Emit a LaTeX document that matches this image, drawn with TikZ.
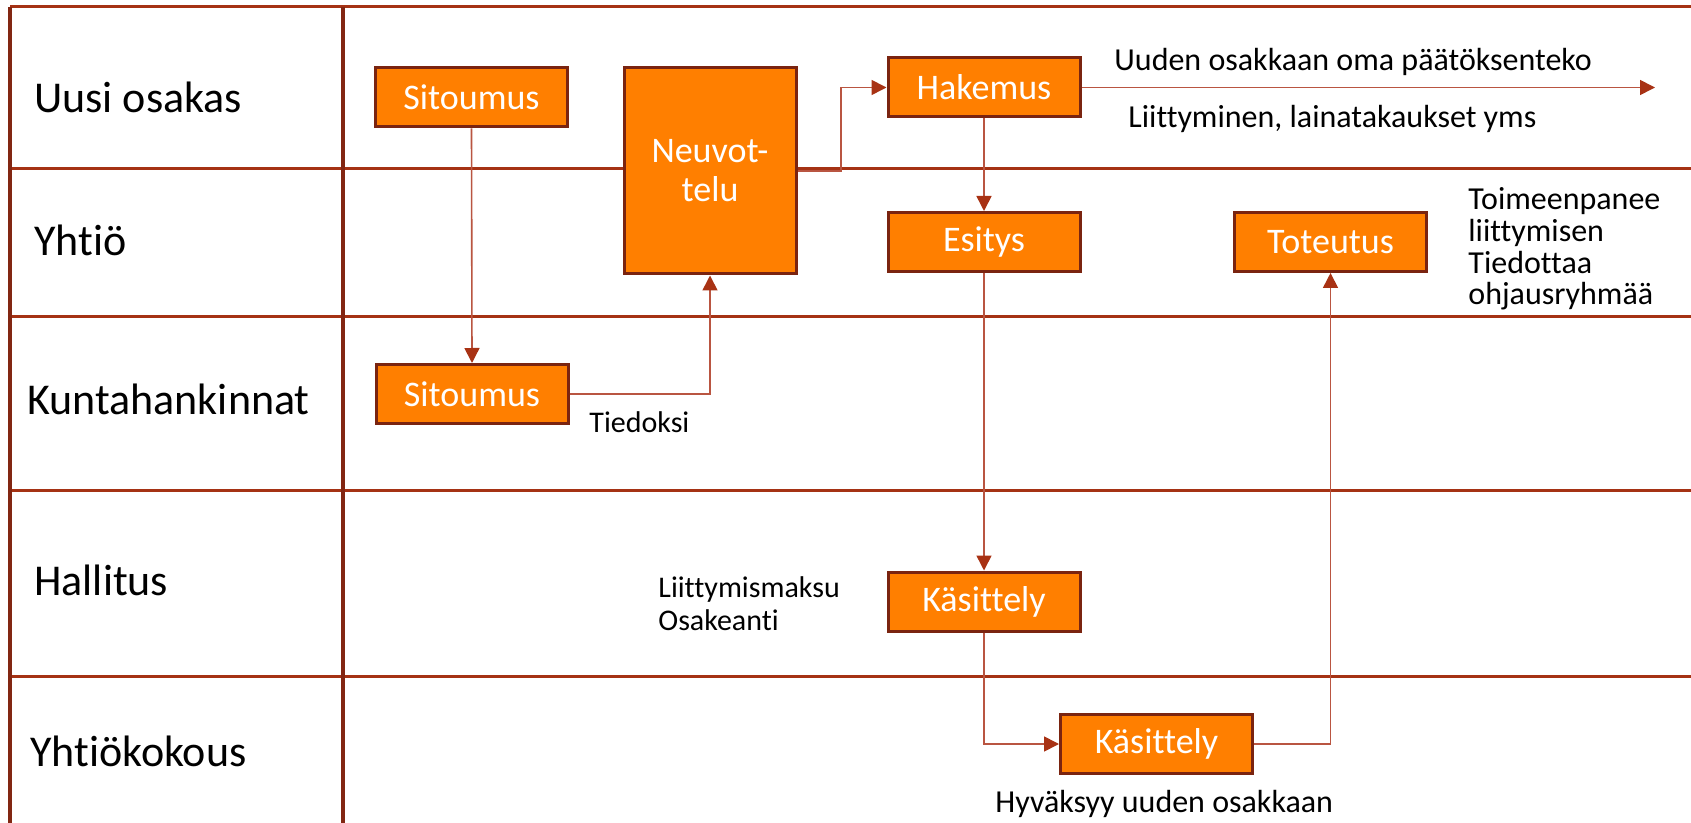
\documentclass[tikz,border=0pt]{standalone}
\usepackage{fontspec}
\setmainfont{Carlito}[Ligatures=NoCommon]
\usetikzlibrary{arrows.meta}
\definecolor{boxfill}{RGB}{255,127,0}
\definecolor{boxline}{RGB}{122,36,16}
\definecolor{gridline}{RGB}{165,50,20}
\definecolor{divline}{RGB}{130,38,18}
\definecolor{conn}{RGB}{185,85,65}
\definecolor{tipc}{RGB}{168,50,20}
\begin{document}
\begin{tikzpicture}[x=0.5pt,y=-0.5pt,
  stepbox/.style={draw=boxline, line width=1.5pt, fill=boxfill, text=white,
    minimum width=96pt, minimum height=29.5pt, inner sep=0pt,
    font=\fontsize{18}{19.5}\selectfont, align=center},
  lane/.style={anchor=base west, inner sep=0pt, font=\fontsize{22}{24}\selectfont},
  note/.style={anchor=base west, inner sep=0pt, font=\fontsize{16}{16}\selectfont},
  smallnote/.style={anchor=base west, inner sep=0pt, font=\fontsize{15}{15}\selectfont},
  flow/.style={draw=conn, line width=0.8pt, -{Triangle[length=7.5pt,width=7.5pt,color=tipc]}},
  gridl/.style={draw=gridline, line width=1.5pt},
  divl/.style={draw=divline, line width=1.6pt}
]
\useasboundingbox (0,0) rectangle (1691,823);

% lane grid
\draw[gridl] (10,7) -- (1691,7);
\foreach \yy in {169,317,490,676} { \draw[gridl] (10,\yy) -- (1691,\yy); }
\draw[divl] (10,7) -- (10,823);
\draw[divl] (343,7) -- (343,823);

% lane labels
\node[lane] (l1) at (34,113) {Uusi osakas};
\node[lane] (l2) at (34,256) {Yhtiö};
\node[lane] (l3) at (27,415) {Kuntahankinnat};
\node[lane] (l4) at (34,595) {Hallitus};
\node[lane] (l5) at (30,766) {Yhtiökokous};

% boxes
\node[stepbox] (s1) at (471.5,97.5) {Sitoumus};
\node[stepbox, minimum width=86pt, minimum height=103pt] (neuv) at (710,171) {Neuvot-\\telu};
\node[stepbox] (hak) at (984,87.5) {Hakemus};
\node[stepbox] (esi) at (984,242) {Esitys};
\node[stepbox] (tot) at (1330.5,242) {Toteutus};
\node[stepbox] (s2) at (472,394) {Sitoumus};
\node[stepbox] (k1) at (984,601.5) {Käsittely};
\node[stepbox] (k2) at (1156.5,744) {Käsittely};

% helper coordinates
\coordinate (bend1) at (841,171);
\coordinate (hakend) at (1655,87.5);

% connectors
\draw[flow] (s1.south) -- (s2.north);
\draw[flow] (s2.east) -| (neuv.south);
\draw[flow] (neuv.east) -- (bend1) |- (hak.west);
\draw[flow] (hak.east) -- (hakend);
\draw[flow] (hak.south) -- (esi.north);
\draw[flow] (esi.south) -- (k1.north);
\draw[flow] (k1.south) |- (k2.west);
\draw[flow] (k2.east) -| (tot.south);

% notes
\node[note] (t1) at (1114,71) {Uuden osakkaan oma päätöksenteko};
\node[note] (t2) at (1128,128) {Liittyminen, lainatakaukset yms};
\node[note] (t3) at (1468,210) {Toimeenpanee};
\node[note] (t4) at (1468,242) {liittymisen};
\node[note] (t5) at (1468,274) {Tiedottaa};
\node[note] (t6) at (1468,305) {ohjausryhmää};
\node[smallnote] (t7) at (589,432) {Tiedoksi};
\node[smallnote] (t8) at (658,597) {Liittymismaksu};
\node[smallnote] (t9) at (658,630) {Osakeanti};
\node[note] (t10) at (995,812) {Hyväksyy uuden osakkaan};
\end{tikzpicture}
\end{document}
